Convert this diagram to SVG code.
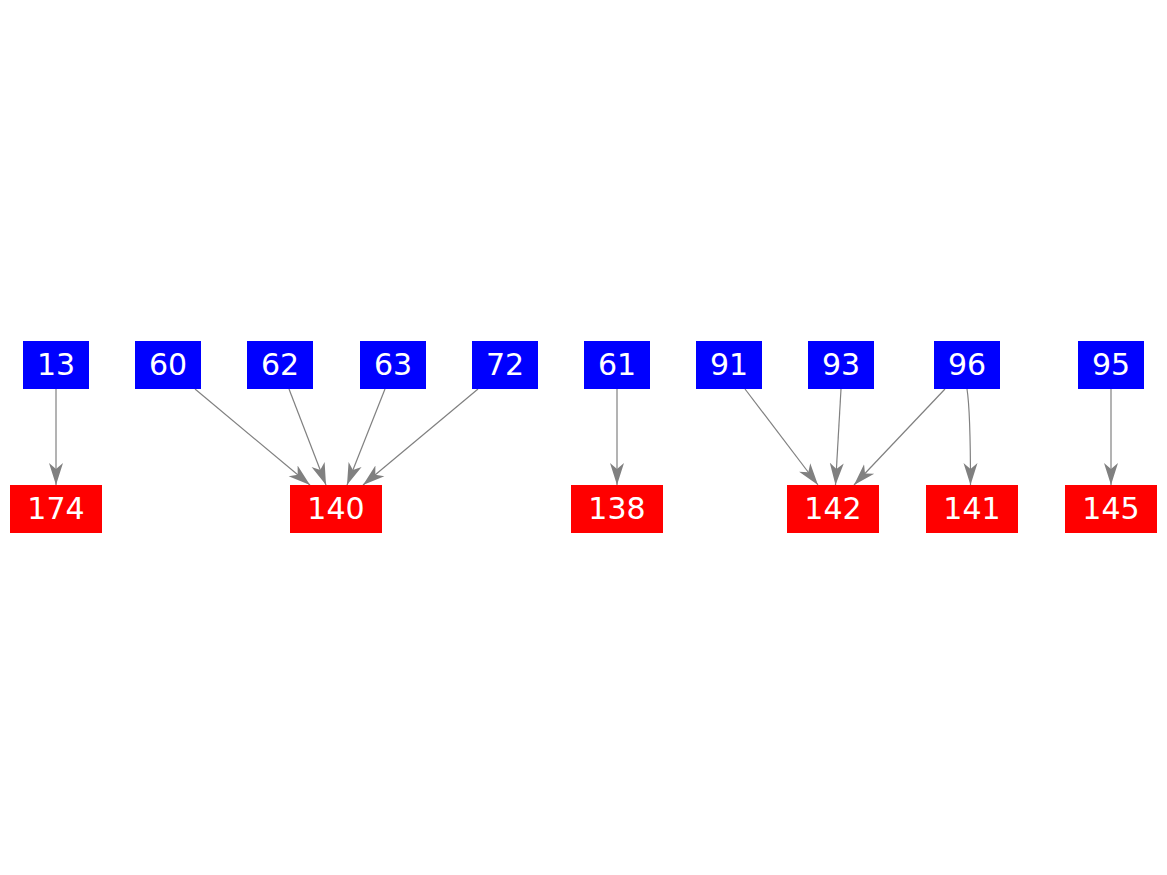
<svg xmlns="http://www.w3.org/2000/svg" width="1167" height="875" viewBox="0 0 1167 875">
<style>
.b rect{fill:#0000ff}
.r rect{fill:#ff0000}
text{font-family:"DejaVu Sans",sans-serif;font-size:30px;fill:#ffffff;text-anchor:middle}
.e{stroke:#808080;stroke-width:1.2;fill:none;marker-end:url(#ah)}
</style>
<defs>
<marker id="ah" markerUnits="userSpaceOnUse" markerWidth="24" markerHeight="16" refX="22" refY="8" orient="auto" viewBox="0 0 24 16">
<path d="M22,8 L0,1 L6,8 L0,15 Z" fill="#808080"/>
</marker>
</defs>
<rect width="1167" height="875" fill="#ffffff"/>
<g id="connectors">
<path class="e" d="M56,389 L56,485"/>
<path class="e" d="M195,389 L310,485"/>
<path class="e" d="M289,389 L326,485"/>
<path class="e" d="M385,389 L347,485"/>
<path class="e" d="M478,389 L363,485"/>
<path class="e" d="M617,389 L617,485"/>
<path class="e" d="M745,389 L818,485"/>
<path class="e" d="M841,389 L835.5,485"/>
<path class="e" d="M945,389 L854,485"/>
<path class="e" d="M967,389 C970,408 970.5,440 970.5,485"/>
<path class="e" d="M1111,389 L1111,485"/>
</g>
<g id="n13" class="b"><rect x="23" y="341" width="66" height="48"/><text x="56" y="375">13</text></g>
<g id="n60" class="b"><rect x="135" y="341" width="66" height="48"/><text x="168" y="375">60</text></g>
<g id="n62" class="b"><rect x="247" y="341" width="66" height="48"/><text x="280" y="375">62</text></g>
<g id="n63" class="b"><rect x="360" y="341" width="66" height="48"/><text x="393" y="375">63</text></g>
<g id="n72" class="b"><rect x="472" y="341" width="66" height="48"/><text x="505" y="375">72</text></g>
<g id="n61" class="b"><rect x="584" y="341" width="66" height="48"/><text x="617" y="375">61</text></g>
<g id="n91" class="b"><rect x="696" y="341" width="66" height="48"/><text x="729" y="375">91</text></g>
<g id="n93" class="b"><rect x="808" y="341" width="66" height="48"/><text x="841" y="375">93</text></g>
<g id="n96" class="b"><rect x="934" y="341" width="66" height="48"/><text x="967" y="375">96</text></g>
<g id="n95" class="b"><rect x="1078" y="341" width="66" height="48"/><text x="1111" y="375">95</text></g>
<g id="n174" class="r"><rect x="10" y="485" width="92" height="48"/><text x="56" y="519">174</text></g>
<g id="n140" class="r"><rect x="290" y="485" width="92" height="48"/><text x="336" y="519">140</text></g>
<g id="n138" class="r"><rect x="571" y="485" width="92" height="48"/><text x="617" y="519">138</text></g>
<g id="n142" class="r"><rect x="787" y="485" width="92" height="48"/><text x="833" y="519">142</text></g>
<g id="n141" class="r"><rect x="926" y="485" width="92" height="48"/><text x="972" y="519">141</text></g>
<g id="n145" class="r"><rect x="1065" y="485" width="92" height="48"/><text x="1111" y="519">145</text></g>
</svg>
